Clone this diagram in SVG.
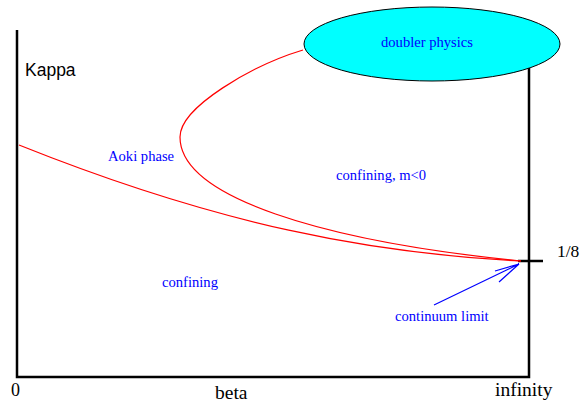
<svg xmlns="http://www.w3.org/2000/svg" width="582" height="408" viewBox="0 0 582 408">
<style>
.ax{stroke:#000;stroke-width:2.5;fill:none}
.ph{stroke:#f00;stroke-width:1.2;fill:none}
.lb{font-family:"Liberation Serif",serif;font-size:14.6px;fill:#00f}
.bk{font-family:"Liberation Serif",serif;font-size:19.5px;fill:#000}
</style>
<rect width="582" height="408" fill="#fff"/>
<g id="axes">
<path class="ax" d="M17,30 V377 H529 V68"/>
<path class="ax" d="M518,261 H543"/>
</g>
<g id="connectors">
<path class="ph" d="M19,145 C219,225 371,253.5 521,261"/>
<path class="ph" d="M303,50 C253,65 180,107 180,137 C180,197 321,241 521,261"/>
<path d="M434,305 L519,264 M495,271 L519,264 L499,282" stroke="#00f" stroke-width="1.2" fill="none"/>
</g>
<g id="doubler">
<ellipse cx="432" cy="44" rx="128" ry="37" fill="#0ff" stroke="#000" stroke-width="1"/>
<text class="lb" x="381" y="47">doubler physics</text>
</g>
<g id="labels">
<text x="25" y="76" font-family="Liberation Sans,sans-serif" font-size="17.5" fill="#000">Kappa</text>
<text class="lb" x="108" y="161">Aoki phase</text>
<text class="lb" x="336" y="180">confining, m&lt;0</text>
<text class="lb" x="162" y="287">confining</text>
<text class="lb" x="395" y="321">continuum limit</text>
<text class="bk" x="557" y="257" style="font-size:17.5px">1/8</text>
<text class="bk" x="11" y="396" style="font-size:18px">0</text>
<text class="bk" x="215" y="399">beta</text>
<text class="bk" x="495" y="396">infinity</text>
</g>
</svg>
